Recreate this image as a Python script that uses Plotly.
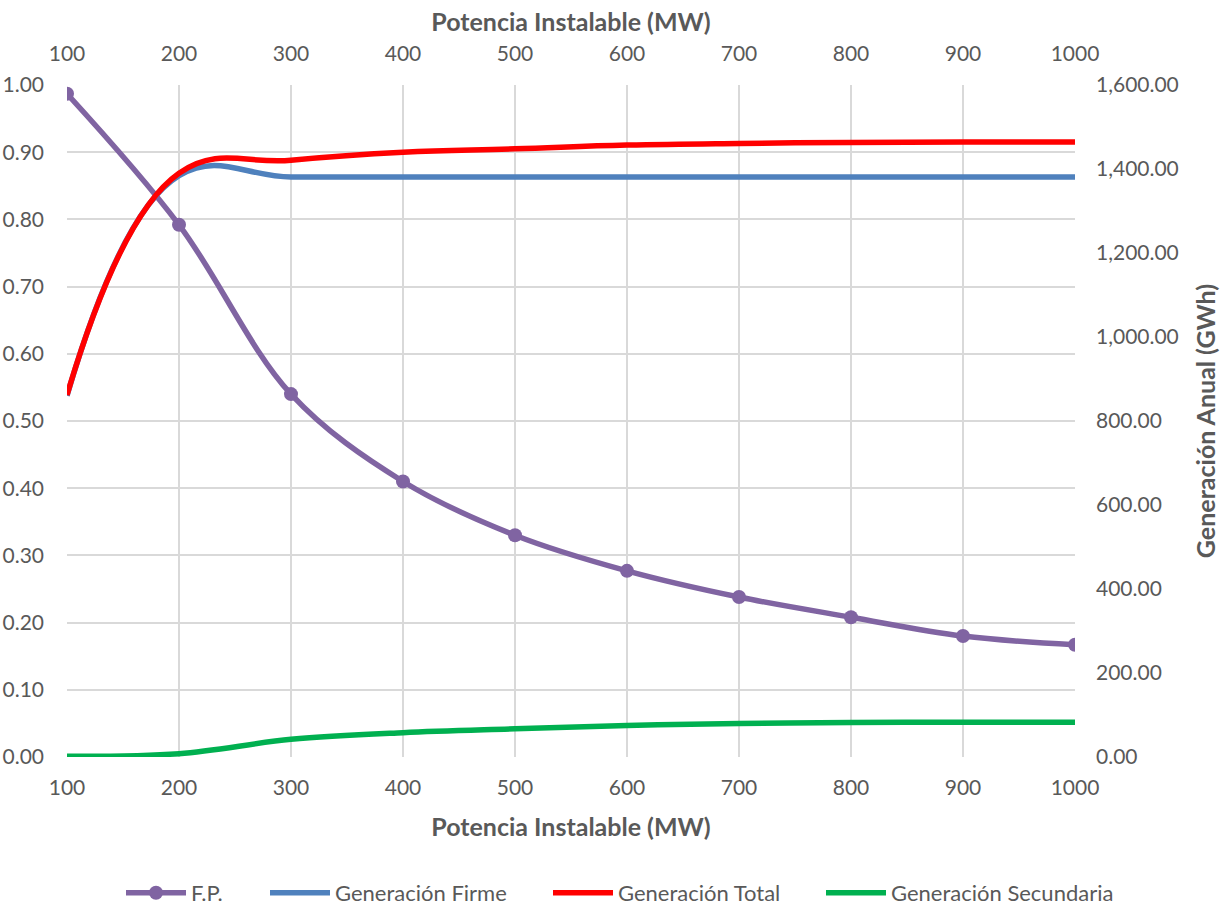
import plotly.graph_objects as go

potencia = [100, 200, 300, 400, 500, 600, 700, 800, 900, 1000]
fp = [0.987, 0.792, 0.540, 0.410, 0.330, 0.277, 0.238, 0.208, 0.180, 0.167]
gen_firme = [860, 1384, 1381, 1381, 1381, 1381, 1381, 1381, 1381, 1381]
gen_total = [862, 1390, 1421, 1440, 1448, 1457, 1461, 1463, 1464, 1464]
gen_secundaria = [2, 8, 42, 58, 67, 75, 80, 82, 83, 83]

x_ticks = list(range(100, 1001, 100))
FONT = "Lato"
GREY = "#595959"
GRID = "#d9d9d9"
LW = 5.5

W, H = 1221, 908

fig = go.Figure()
fig.add_trace(go.Scatter(x=potencia, y=fp, name="F.P.", mode="lines+markers",
                         line=dict(color="#8064a2", width=LW, shape="spline", smoothing=1.0),
                         marker=dict(size=14, color="#8064a2"), yaxis="y", legend="legend"))
fig.add_trace(go.Scatter(x=potencia, y=gen_firme, name="Generación Firme", mode="lines",
                         line=dict(color="#4f81bd", width=LW, shape="spline", smoothing=1.2),
                         yaxis="y2", legend="legend2"))
fig.add_trace(go.Scatter(x=potencia, y=gen_total, name="Generación Total", mode="lines",
                         line=dict(color="#ff0000", width=LW, shape="spline", smoothing=1.2),
                         yaxis="y2", legend="legend3"))
fig.add_trace(go.Scatter(x=potencia, y=gen_secundaria, name="Generación Secundaria", mode="lines",
                         line=dict(color="#00b050", width=LW, shape="spline", smoothing=1.0),
                         yaxis="y2", legend="legend4"))

axis_font = dict(family=FONT, size=21, color=GREY)
title_font = dict(family=FONT, size=25, color=GREY, weight="bold")
legend_font = dict(family=FONT, size=22, color=GREY)


def leg(px):
    return dict(orientation="h", xref="container", yref="container", x=px / W, xanchor="left",
                y=1 - 893 / H, yanchor="middle", font=legend_font, itemwidth=60,
                bgcolor="rgba(0,0,0,0)")


fig.update_layout(
    width=W, height=H,
    margin=dict(l=67, r=146, t=85, b=151),
    paper_bgcolor="white", plot_bgcolor="white",
    font=dict(family=FONT, color=GREY),
    xaxis=dict(range=[100, 1000], tickvals=x_ticks, showgrid=True, gridcolor=GRID, gridwidth=1.5,
               zeroline=False, showline=False, tickfont=axis_font, ticks="", ticklabelstandoff=16,
               automargin=False,
               title=dict(text="Potencia Instalable (MW)", font=title_font, standoff=20)),
    xaxis2=dict(range=[100, 1000], tickvals=x_ticks, overlaying="x", side="top", showgrid=False,
                zeroline=False, showline=False, tickfont=axis_font, ticks="", ticklabelstandoff=19,
                automargin=False,
                title=dict(text="Potencia Instalable (MW)", font=title_font, standoff=1)),
    yaxis=dict(range=[0, 1], dtick=0.1, tickformat=".2f", showgrid=True, gridcolor=GRID, gridwidth=1.5,
               zeroline=False, showline=False, tickfont=axis_font, ticks="", ticklabelstandoff=22,
               automargin=False),
    yaxis2=dict(range=[0, 1600], dtick=200, tickformat=",.2f", overlaying="y", side="right",
                showgrid=False, zeroline=False, showline=False, tickfont=axis_font, ticks="",
                ticklabelstandoff=20, automargin=False,
                title=dict(text="Generación Anual (GWh)", font=title_font, standoff=19)),
    legend=leg(121),
    legend2=leg(265),
    legend3=leg(548),
    legend4=leg(821),
)
fig.add_trace(go.Scatter(x=[100, 1000], y=[None, None], xaxis="x2", yaxis="y", showlegend=False,
                         hoverinfo="skip", mode="lines"))

fig.write_html("out.html", config={"displayModeBar": False},
               post_script="document.body.style.margin='0';document.body.style.overflow='hidden';")
